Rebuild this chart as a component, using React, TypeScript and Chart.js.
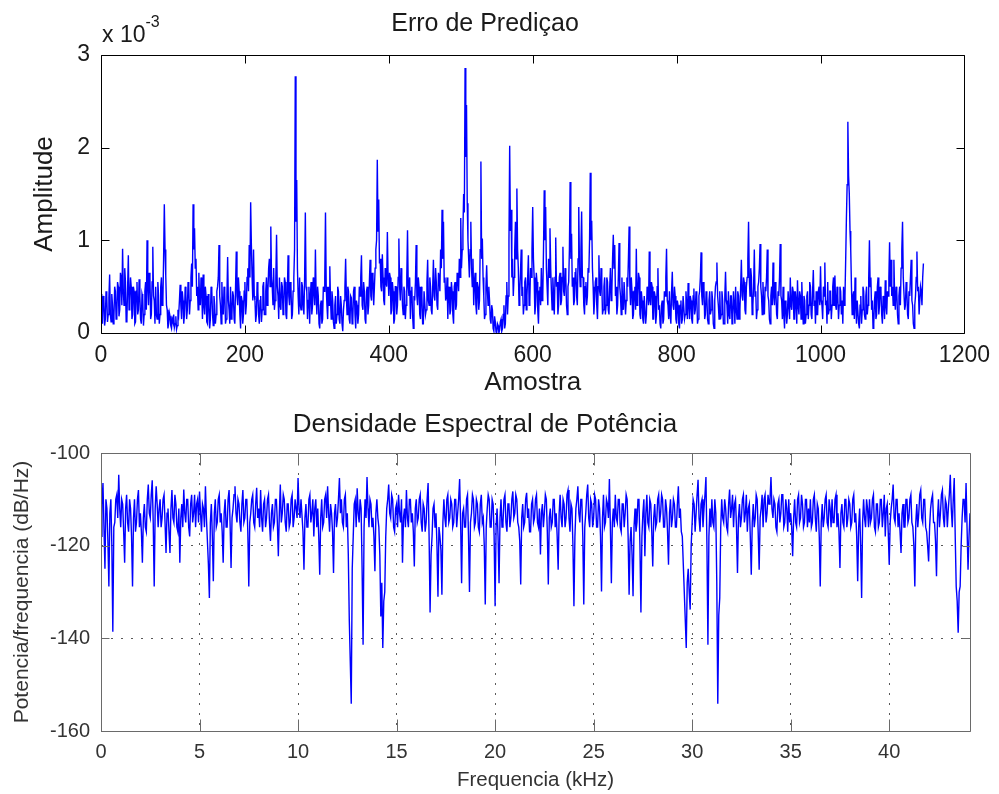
import React, { useEffect, useRef } from "react";
import { Chart, registerables } from "chart.js";

Chart.register(...registerables);

const FONT = "'Liberation Sans', Arial, Helvetica, sans-serif";

// ---------- Top subplot: prediction error (values in units of 1e-3) ----------
const ERR_TITLE = "Erro de Prediçao";
const ERR_X_LABEL = "Amostra";
const ERR_Y_LABEL = "Amplitude";
const ERR_SAMPLE_STEP = 1;
const ERR_X_MIN = 0;
const ERR_X_MAX = 1200;
const ERR_X_STEP = 200;
const ERR_Y_MIN = 0;
const ERR_Y_MAX = 3;
const ERR_Y_STEP = 1;

const errorValues = [
  0.42, 0.15, 0.1, 0.4, 0.35, 0.08, 0.15, 0.45, 0.4, 0.12, 0.2, 0.38, 0.63, 0.2, 0.12, 0.42, 0.3, 0.1, 0.18, 0.5,
  0.45, 0.15, 0.2, 0.55, 0.5, 0.18, 0.25, 0.65, 0.6, 0.3, 0.91, 0.45, 0.3, 0.7, 0.55, 0.12, 0.15, 0.5, 0.84, 0.25,
  0.35, 0.6, 0.5, 0.15, 0.2, 0.5, 0.45, 0.1, 0.12, 0.45, 0.55, 0.2, 0.25, 0.58, 0.4, 0.15, 0.1, 0.42, 0.38, 0.08,
  0.2, 0.45, 0.55, 0.25, 1.0, 0.5, 0.3, 0.65, 0.6, 0.15, 0.2, 0.55, 0.93, 0.4, 0.35, 0.1, 0.5, 0.2, 0.15, 0.55,
  0.4, 0.1, 0.2, 0.5, 0.6, 0.3, 0.35, 0.8, 1.39, 0.9, 0.62, 0.3, 0.25, 0.05, 0.1, 0.22, 0.18, 0.08, 0.05, 0.15,
  0.12, 0.2, 0.06, 0.1, 0.18, 0.04, 0.08, 0.25, 0.2, 0.35, 0.52, 0.3, 0.15, 0.45, 0.35, 0.1, 0.2, 0.5, 0.42, 0.15,
  0.25, 0.55, 0.5, 0.2, 0.35, 0.6, 0.75, 0.5, 1.39, 0.9, 1.13, 0.7, 0.8, 0.4, 0.5, 0.25, 0.65, 0.35, 0.3, 0.6,
  0.45, 0.15, 0.63, 0.3, 0.2, 0.5, 0.4, 0.12, 0.1, 0.42, 0.35, 0.05, 0.15, 0.5, 0.45, 0.2, 0.08, 0.4, 0.3, 0.1,
  0.2, 0.45, 0.5, 0.6, 0.95, 0.4, 0.3, 0.1, 0.55, 0.25, 0.2, 0.5, 0.45, 0.1, 0.15, 0.4, 0.82, 0.35, 0.25, 0.1,
  0.5, 0.15, 0.2, 0.45, 0.4, 0.15, 0.1, 0.5, 0.88, 0.4, 0.3, 0.6, 0.45, 0.2, 0.05, 0.4, 0.35, 0.1, 0.2, 0.45,
  0.55, 0.2, 0.3, 0.6, 0.7, 0.45, 0.95, 0.6, 1.41, 0.95, 0.6, 0.35, 0.9, 0.4, 0.35, 0.12, 0.2, 0.55, 0.45, 0.2,
  0.1, 0.35, 0.4, 0.12, 0.25, 0.5, 0.55, 0.2, 0.2, 0.45, 0.6, 0.3, 0.45, 0.7, 0.8, 0.5, 1.15, 0.6, 0.5, 0.3,
  0.7, 0.25, 0.35, 0.6, 1.06, 0.5, 0.4, 0.15, 0.6, 0.3, 0.25, 0.55, 0.5, 0.2, 0.3, 0.6, 0.55, 0.2, 0.15, 0.45,
  0.84, 0.4, 0.3, 0.55, 0.5, 0.15, 0.2, 0.45, 0.6, 0.9, 2.77, 1.2, 1.65, 0.7, 0.4, 0.2, 0.6, 0.3, 0.25, 0.55,
  0.5, 0.3, 0.2, 0.6, 1.3, 0.5, 0.45, 0.15, 0.35, 0.5, 0.1, 0.4, 0.55, 0.2, 0.3, 0.6, 0.45, 0.3, 0.9, 0.4,
  0.2, 0.5, 0.4, 0.1, 0.05, 0.3, 0.35, 0.1, 0.15, 0.5, 0.45, 0.6, 1.3, 0.5, 0.3, 0.15, 0.5, 0.3, 0.72, 0.35,
  0.15, 0.45, 0.35, 0.12, 0.05, 0.3, 0.4, 0.1, 0.2, 0.5, 0.45, 0.15, 0.1, 0.4, 0.3, 0.1, 0.02, 0.25, 0.35, 0.5,
  0.8, 0.4, 0.2, 0.5, 0.45, 0.15, 0.1, 0.4, 0.38, 0.1, 0.15, 0.45, 0.5, 0.2, 0.05, 0.35, 0.3, 0.1, 0.2, 0.5,
  0.4, 0.6, 0.84, 0.3, 0.25, 0.55, 0.45, 0.15, 0.1, 0.45, 0.5, 0.2, 0.3, 0.55, 0.79, 0.4, 0.35, 0.65, 0.6, 0.3,
  0.5, 0.7, 0.9, 1.0, 1.87, 1.1, 1.44, 0.75, 0.8, 0.5, 0.45, 0.85, 0.6, 0.35, 0.3, 0.7, 0.55, 0.5, 1.09, 0.6,
  0.4, 0.65, 0.6, 0.2, 0.25, 0.55, 0.45, 0.1, 0.15, 0.5, 0.5, 0.2, 0.3, 0.6, 1.02, 0.5, 0.35, 0.7, 0.55, 0.3,
  0.2, 0.5, 0.45, 0.15, 0.3, 0.6, 1.11, 0.5, 0.4, 0.6, 0.15, 0.45, 0.5, 0.2, 0.05, 0.4, 0.35, 0.55, 0.95, 0.4,
  0.3, 0.6, 0.5, 0.2, 0.15, 0.5, 0.4, 0.1, 0.1, 0.45, 0.45, 0.2, 0.25, 0.55, 0.79, 0.35, 0.3, 0.6, 0.5, 0.25,
  0.2, 0.5, 0.79, 0.4, 0.35, 0.7, 0.55, 0.3, 0.25, 0.65, 0.6, 0.45, 0.9, 0.7, 1.33, 0.8, 1.2, 0.55, 0.6, 0.35,
  0.4, 0.6, 0.15, 0.45, 0.5, 0.2, 0.25, 0.55, 0.45, 0.2, 0.1, 0.5, 0.55, 0.25, 0.3, 0.65, 0.6, 0.45, 0.8, 0.6,
  1.24, 0.7, 0.9, 1.1, 1.5, 1.3, 2.86, 1.9, 2.46, 1.4, 1.0, 0.8, 0.6, 0.9, 1.2, 0.7, 0.5, 0.8, 0.3, 0.55,
  0.65, 0.3, 0.2, 0.55, 0.5, 0.25, 0.35, 0.9, 1.85, 0.8, 1.02, 0.6, 0.4, 0.15, 0.2, 0.5, 0.73, 0.45, 0.3, 0.5,
  0.35, 0.15, 0.1, 0.3, 0.25, 0.05, 0.02, 0.18, 0.12, 0.01, 0.0, 0.1, 0.08, 0.0, 0.03, 0.12, 0.15, 0.02, 0.05, 0.2,
  0.3, 0.05, 0.1, 0.4, 0.55, 0.2, 0.4, 1.0, 2.02, 1.1, 1.33, 0.6, 0.8, 0.4, 0.6, 0.9, 1.2, 0.8, 1.56, 0.9,
  0.7, 0.3, 0.45, 0.65, 0.9, 0.4, 0.5, 0.2, 0.3, 0.55, 0.6, 0.25, 0.4, 0.6, 0.84, 0.3, 0.35, 0.7, 0.6, 0.9,
  1.36, 0.8, 0.6, 0.2, 0.3, 0.65, 0.55, 0.25, 0.1, 0.45, 0.5, 0.3, 0.7, 0.35, 0.4, 0.9, 1.54, 1.0, 1.36, 0.7,
  0.5, 0.3, 0.8, 0.6, 1.13, 0.7, 0.45, 0.25, 0.6, 0.4, 0.2, 0.6, 1.03, 0.5, 0.55, 0.2, 0.3, 0.6, 0.65, 0.3,
  0.35, 0.6, 0.93, 0.45, 0.4, 0.7, 0.6, 0.3, 0.2, 0.5, 0.55, 0.9, 1.63, 0.8, 1.07, 0.5, 0.6, 0.3, 0.35, 0.65,
  0.7, 0.4, 0.3, 0.8, 1.36, 0.7, 0.5, 0.9, 1.31, 0.6, 0.6, 0.3, 0.2, 0.5, 0.55, 0.3, 0.4, 0.7, 0.65, 1.0,
  1.73, 1.0, 1.21, 0.7, 0.5, 0.2, 0.35, 0.55, 0.6, 0.3, 0.15, 0.5, 0.84, 0.45, 0.4, 0.7, 0.55, 0.2, 0.25, 0.5,
  0.6, 0.2, 0.3, 0.6, 0.55, 0.25, 0.2, 0.5, 0.7, 0.35, 0.45, 0.8, 1.06, 0.7, 0.95, 0.4, 0.5, 0.2, 0.3, 0.6,
  0.97, 0.5, 0.4, 0.2, 0.6, 0.3, 0.25, 0.55, 0.55, 0.2, 0.35, 0.6, 0.5, 0.8, 1.15, 0.5, 0.3, 0.6, 0.45, 0.15,
  0.2, 0.45, 0.5, 0.25, 0.91, 0.3, 0.4, 0.65, 0.6, 0.2, 0.15, 0.45, 0.35, 0.15, 0.1, 0.4, 0.4, 0.1, 0.2, 0.5,
  0.45, 0.3, 0.88, 0.35, 0.3, 0.55, 0.5, 0.15, 0.15, 0.45, 0.4, 0.1, 0.2, 0.5, 0.7, 0.25, 0.3, 0.1, 0.05, 0.3,
  0.35, 0.1, 0.15, 0.45, 0.4, 0.6, 0.91, 0.35, 0.3, 0.15, 0.45, 0.2, 0.1, 0.45, 0.66, 0.3, 0.25, 0.5, 0.4, 0.15,
  0.1, 0.35, 0.3, 0.1, 0.05, 0.3, 0.35, 0.1, 0.15, 0.4, 0.4, 0.15, 0.2, 0.45, 0.3, 0.15, 0.54, 0.3, 0.15, 0.4,
  0.35, 0.15, 0.1, 0.4, 0.48, 0.2, 0.25, 0.45, 0.4, 0.1, 0.15, 0.4, 0.45, 0.6, 0.87, 0.4, 0.3, 0.55, 0.5, 0.15,
  0.2, 0.45, 0.4, 0.15, 0.1, 0.35, 0.45, 0.2, 0.25, 0.45, 0.35, 0.1, 0.05, 0.35, 0.5, 0.55, 0.76, 0.4, 0.3, 0.15,
  0.45, 0.15, 0.2, 0.45, 0.35, 0.1, 0.1, 0.4, 0.66, 0.35, 0.3, 0.1, 0.45, 0.2, 0.15, 0.4, 0.4, 0.1, 0.2, 0.45,
  0.3, 0.1, 0.5, 0.25, 0.15, 0.45, 0.4, 0.15, 0.25, 0.5, 0.79, 0.4, 0.35, 0.6, 0.55, 0.25, 0.2, 0.5, 0.6, 0.8,
  1.2, 0.6, 0.4, 0.7, 0.6, 0.2, 0.3, 0.5, 0.9, 0.4, 0.45, 0.15, 0.25, 0.5, 0.55, 0.7, 0.96, 0.5, 0.4, 0.2,
  0.55, 0.3, 0.2, 0.5, 0.45, 0.6, 0.9, 0.4, 0.35, 0.15, 0.1, 0.4, 0.5, 0.3, 0.76, 0.4, 0.3, 0.55, 0.45, 0.2,
  0.15, 0.45, 0.4, 0.6, 0.96, 0.4, 0.35, 0.15, 0.5, 0.2, 0.05, 0.35, 0.3, 0.1, 0.2, 0.45, 0.45, 0.15, 0.6, 0.3,
  0.25, 0.5, 0.45, 0.15, 0.15, 0.45, 0.35, 0.1, 0.57, 0.3, 0.2, 0.45, 0.4, 0.15, 0.55, 0.3, 0.1, 0.4, 0.35, 0.1,
  0.2, 0.4, 0.45, 0.15, 0.3, 0.55, 0.5, 0.2, 0.15, 0.45, 0.68, 0.3, 0.35, 0.1, 0.45, 0.2, 0.2, 0.45, 0.5, 0.3,
  0.72, 0.35, 0.3, 0.15, 0.5, 0.4, 0.76, 0.3, 0.35, 0.1, 0.55, 0.2, 0.25, 0.45, 0.45, 0.15, 0.3, 0.5, 0.6, 0.3,
  0.62, 0.3, 0.25, 0.5, 0.4, 0.15, 0.3, 0.5, 0.45, 0.2, 0.35, 0.1, 0.5, 0.3, 0.4, 0.8, 1.24, 1.6, 2.28, 1.7,
  1.5, 1.1, 0.9, 0.5, 0.2, 0.4, 0.45, 0.15, 0.6, 0.3, 0.1, 0.35, 0.35, 0.1, 0.05, 0.3, 0.4, 0.1, 0.25, 0.5,
  0.45, 0.2, 0.15, 0.4, 0.5, 0.2, 0.3, 0.6, 1.0, 0.5, 0.6, 0.25, 0.35, 0.05, 0.1, 0.35, 0.45, 0.15, 0.2, 0.5,
  0.6, 0.2, 0.3, 0.5, 0.45, 0.2, 0.1, 0.4, 0.35, 0.15, 0.57, 0.3, 0.2, 0.45, 0.4, 0.6, 0.98, 0.5, 0.79, 0.4,
  0.5, 0.3, 0.79, 0.4, 0.25, 0.5, 0.45, 0.2, 0.1, 0.4, 0.5, 0.3, 0.7, 0.9, 1.2, 0.6, 0.6, 0.25, 0.3, 0.55,
  0.45, 0.2, 0.15, 0.45, 0.4, 0.6, 0.79, 0.35, 0.3, 0.1, 0.05, 0.3, 0.4, 0.6, 0.88, 0.45, 0.5, 0.2, 0.2, 0.5,
  0.45, 0.3, 0.6, 0.75,
];

// ---------- Bottom subplot: power spectral density (dB/Hz) ----------
const PSD_TITLE = "Densidade Espectral de Potência";
const PSD_X_LABEL = "Frequencia (kHz)";
const PSD_Y_LABEL = "Potencia/frequencia (dB/Hz)";
const PSD_FREQ_STEP_KHZ = 0.05;
const PSD_X_MIN = 0;
const PSD_X_MAX = 44.1;
const PSD_X_STEP = 5;
const PSD_Y_MIN = -160;
const PSD_Y_MAX = -100;
const PSD_Y_STEP = 20;

const psdValues = [
  -118, -111, -106.5, -116, -125, -110, -112, -119, -128.8, -113, -110, -120, -138.6, -116, -115, -110, -109, -114, -104.7, -112,
  -116, -110, -111, -117, -123.7, -112, -109, -115, -117, -110, -112, -118, -128.8, -114, -110, -117, -115, -110, -108, -116,
  -113, -117, -123.7, -114, -111, -116, -117, -110, -106.8, -113, -114, -109, -105.9, -115, -128.8, -112, -107.2, -111, -116, -112,
  -110, -116, -114, -110, -109, -115, -121.6, -113, -112, -117, -121.6, -112, -108, -114, -115, -109, -111, -116, -117, -112,
  -123.7, -114, -111, -116, -107.9, -113, -115, -110, -110, -116, -118, -111, -109, -115, -113, -109, -116, -111, -110, -115,
  -108.3, -113, -117, -111, -112, -116, -107.2, -114, -119, -124, -131.3, -115, -111, -118, -127.7, -113, -110, -116, -115, -110,
  -109, -115, -113, -117, -123.7, -113, -110, -116, -116, -110, -108, -115, -124.8, -114, -112, -109, -107.2, -113, -115, -110,
  -111, -115, -117, -111, -108, -115, -114, -110, -110, -117, -128.8, -115, -113, -110, -109, -115, -116, -111, -107.5, -114,
  -112, -116, -108, -114, -117, -111, -110, -116, -114, -110, -109, -115, -119, -113, -111, -116, -115, -110, -110, -115,
  -122.3, -113, -106.8, -115, -113, -109, -110, -115, -117, -111, -111, -116, -115, -110, -109, -116, -114, -110, -112, -114,
  -105.4, -112, -114, -110, -110, -117, -125.2, -114, -111, -116, -116, -110, -109, -115, -113, -110, -118, -112, -110, -116,
  -112, -118, -126.3, -114, -110, -116, -115, -110, -109, -114, -107.2, -113, -117, -111, -113, -117, -125.9, -113, -111, -116,
  -114, -110, -105.4, -113, -110, -115, -116, -110, -109, -116, -113, -122, -136, -145, -154.1, -125, -118, -111, -110, -116,
  -107.6, -113, -115, -110, -112, -125, -141.4, -116, -110, -114, -105.2, -112, -116, -110, -111, -116, -114, -118, -125.5, -113,
  -110, -114, -116, -122, -135.3, -128, -142.1, -132, -130, -118, -112, -110, -106.8, -113, -114, -109, -110, -116, -117, -112,
  -111, -116, -109, -113, -115, -110, -123.7, -114, -112, -116, -108, -114, -116, -110, -110, -115, -113, -117, -124.5, -112,
  -110, -115, -114, -110, -109, -115, -117, -111, -112, -117, -115, -110, -106.5, -118, -134.4, -122, -118, -112, -111, -116,
  -113, -120, -131, -116, -118, -121, -130.6, -115, -110, -114, -116, -110, -109, -115, -114, -110, -111, -116, -115, -110,
  -110, -116, -113, -110, -105.6, -115, -128.1, -113, -112, -116, -116, -110, -109, -118, -130, -115, -113, -109, -110, -116,
  -115, -110, -111, -116, -117, -111, -109, -115, -114, -120, -132.7, -116, -112, -109, -110, -116, -116, -110, -111, -118,
  -133.1, -116, -112, -118, -128.1, -114, -110, -116, -115, -110, -109, -115, -117, -111, -111, -116, -114, -110, -108.3, -114,
  -113, -109, -110, -115, -116, -119, -128.4, -114, -111, -116, -115, -110, -108.6, -114, -112, -117, -117, -111, -110, -115,
  -114, -110, -109, -115, -116, -112, -121.9, -113, -111, -116, -113, -109, -110, -117, -128.4, -114, -112, -116, -115, -110,
  -110, -116, -113, -118, -125.2, -113, -109, -114, -116, -110, -111, -116, -114, -109, -108, -114, -117, -111, -112, -120,
  -133.1, -118, -112, -110, -107.2, -113, -115, -110, -110, -118, -132.7, -116, -113, -109, -106.8, -114, -116, -110, -111, -116,
  -114, -109, -110, -116, -116, -110, -112, -118, -129.9, -114, -109, -116, -115, -110, -111, -114, -105.6, -116, -128.1, -115,
  -112, -116, -109, -114, -115, -110, -110, -116, -117, -111, -111, -116, -113, -109, -110, -118, -130.6, -119, -116, -122,
  -130.9, -116, -112, -117, -115, -110, -110, -120, -134.4, -118, -113, -110, -122.3, -113, -109, -115, -116, -110, -111, -117,
  -124.5, -114, -111, -116, -115, -110, -109, -115, -113, -109, -110, -116, -116, -110, -112, -117, -124.1, -113, -110, -116,
  -114, -110, -111, -116, -116, -111, -107.2, -114, -112, -117, -118, -124, -130, -136, -142.1, -128, -125, -130, -133.8, -120,
  -115, -110, -111, -117, -113, -109, -105.8, -114, -117, -111, -110, -116, -112, -109, -105.2, -120, -141.4, -118, -112, -116,
  -110, -115, -116, -110, -113, -128, -154.1, -135, -131.3, -116, -110, -114, -115, -110, -112, -116, -117, -111, -107.9, -114,
  -112, -109, -116, -111, -110, -116, -125.9, -114, -111, -116, -114, -110, -109, -115, -113, -109, -117, -112, -111, -118,
  -126.3, -115, -111, -116, -114, -109, -110, -117, -125.2, -114, -112, -109, -116, -110, -109, -115, -113, -109, -111, -110,
  -105.2, -112, -114, -110, -111, -116, -117, -111, -110, -115, -113, -109, -109, -116, -115, -110, -112, -117, -110, -115,
  -113, -116, -122.3, -114, -110, -115, -116, -110, -109, -115, -114, -109, -111, -116, -115, -110, -110, -116, -112, -115,
  -110, -116, -115, -110, -109, -114, -117, -111, -112, -118, -128.8, -115, -111, -116, -114, -110, -109, -115, -116, -110,
  -112, -116, -110, -115, -115, -110, -109, -116, -113, -117, -124.8, -113, -111, -115, -116, -110, -110, -116, -114, -110,
  -111, -116, -115, -110, -109, -115, -113, -118, -127.7, -116, -112, -120, -131.3, -115, -110, -114, -116, -110, -112, -116,
  -110, -115, -114, -110, -109, -116, -117, -111, -111, -116, -115, -110, -110, -116, -113, -109, -118, -112, -111, -117,
  -124.1, -115, -112, -110, -106.8, -114, -115, -110, -110, -116, -113, -117, -121.6, -113, -111, -116, -116, -110, -110, -115,
  -114, -110, -109, -115, -116, -120, -128.8, -115, -111, -116, -113, -109, -108, -114, -115, -110, -110, -116, -117, -120,
  -123.4, -116, -112, -110, -109, -115, -115, -119, -126.6, -114, -110, -116, -113, -109, -108, -114, -116, -110, -111, -116,
  -112, -109, -104.7, -112, -116, -110, -105.4, -118, -128.8, -132, -138.8, -130, -128.8, -120, -114, -110, -110, -115, -106.5, -116,
  -125.2, -118, -113,
];

const plainTick = (v: any) => String(v);

// ---------- plugin: MATLAB-like box with inward ticks, and exponent label ----------
const matlabBox = {
  id: "matlabBox",
  afterDatasetsDraw(chart: any, _args: any, opts: any) {
    const { ctx, chartArea: a, scales } = chart;
    const xs = scales.x;
    const ys = scales.y;
    ctx.save();
    ctx.strokeStyle = opts.color || "#000";
    ctx.lineWidth = 1;
    ctx.beginPath();
    const L = Math.round(a.left) + 0.5;
    const R = Math.round(a.right) + 0.5;
    const T = Math.round(a.top) + 0.5;
    const B = Math.round(a.bottom) + 0.5;
    ctx.moveTo(L, T);
    ctx.lineTo(R, T);
    ctx.lineTo(R, B);
    ctx.lineTo(L, B);
    ctx.closePath();
    const xl = opts.xTickLen || 8;
    const yl = opts.yTickLen || 8;
    xs.ticks.forEach((t: any) => {
      const px = Math.round(xs.getPixelForValue(t.value)) + 0.5;
      ctx.moveTo(px, B);
      ctx.lineTo(px, B - xl);
      ctx.moveTo(px, T);
      ctx.lineTo(px, T + xl);
    });
    ys.ticks.forEach((t: any) => {
      const py = Math.round(ys.getPixelForValue(t.value)) + 0.5;
      ctx.moveTo(L, py);
      ctx.lineTo(L + yl, py);
      ctx.moveTo(R, py);
      ctx.lineTo(R - yl, py);
    });
    ctx.stroke();
    if (opts.exponent) {
      ctx.fillStyle = opts.textColor || "#000";
      ctx.textAlign = "left";
      ctx.textBaseline = "alphabetic";
      ctx.font = `23px ${FONT}`;
      const base = "x 10";
      ctx.fillText(base, a.left + 1, a.top - 13);
      const w = ctx.measureText(base).width;
      ctx.font = `16px ${FONT}`;
      ctx.fillText(opts.exponent, a.left + 1 + w, a.top - 28);
    }
    ctx.restore();
  },
};

function ErrorChart() {
  const ref = useRef<HTMLCanvasElement | null>(null);
  useEffect(() => {
    if (!ref.current) return;
    const points = errorValues.map((v, i) => ({ x: i * ERR_SAMPLE_STEP, y: v }));
    const textColor = "#1a1a1a";
    const chart = new Chart(ref.current, {
      type: "line",
      data: {
        datasets: [
          {
            data: points,
            borderColor: "#0000ff",
            borderWidth: 1.4,
            pointRadius: 0,
            tension: 0,
            fill: false,
          },
        ],
      },
      options: {
        animation: false,
        responsive: false,
        devicePixelRatio: 1,
        layout: { padding: { left: 0, right: 29, top: 0, bottom: 0 } },
        plugins: {
          legend: { display: false },
          tooltip: { enabled: false },
          title: {
            display: true,
            text: ERR_TITLE,
            color: textColor,
            font: { family: FONT, size: 25, weight: "normal" },
            padding: { top: 9.4, bottom: 15.6 },
          },
          matlabBox: { color: "#000", xTickLen: 8, yTickLen: 8, exponent: "-3", textColor },
        } as any,
        scales: {
          x: {
            type: "linear",
            min: ERR_X_MIN,
            max: ERR_X_MAX,
            ticks: {
              stepSize: ERR_X_STEP,
              includeBounds: false,
              maxRotation: 0,
              padding: 9,
              color: textColor,
              font: { family: FONT, size: 23 },
              callback: plainTick,
            },
            grid: { display: false, drawTicks: false },
            border: { display: false },
            title: {
              display: true,
              text: ERR_X_LABEL,
              color: textColor,
              font: { family: FONT, size: 26 },
              padding: { top: 0, bottom: 1.4 },
            },
            afterFit: (s: any) => {
              s.height = 67;
            },
          },
          y: {
            type: "linear",
            min: ERR_Y_MIN,
            max: ERR_Y_MAX,
            ticks: {
              stepSize: ERR_Y_STEP,
              padding: 11,
              color: textColor,
              font: { family: FONT, size: 23 },
              callback: plainTick,
            },
            grid: { display: false, drawTicks: false },
            border: { display: false },
            title: {
              display: true,
              text: ERR_Y_LABEL,
              color: textColor,
              font: { family: FONT, size: 26 },
              padding: { top: 29.4, bottom: 0 },
            },
            afterFit: (s: any) => {
              s.width = 101;
            },
          },
        },
      } as any,
      plugins: [matlabBox as any],
    });
    return () => chart.destroy();
  }, []);
  return (
    <canvas
      ref={ref}
      width={999}
      height={400}
      style={{ position: "absolute", left: 0, top: 0, width: 999, height: 400 }}
    />
  );
}

function PsdChart() {
  const ref = useRef<HTMLCanvasElement | null>(null);
  useEffect(() => {
    if (!ref.current) return;
    const points = psdValues.map((v, i) => ({ x: +(i * PSD_FREQ_STEP_KHZ).toFixed(2), y: v }));
    const textColor = "#333333";
    const chart = new Chart(ref.current, {
      type: "line",
      data: {
        datasets: [
          {
            data: points,
            borderColor: "#0000ff",
            borderWidth: 1.4,
            pointRadius: 0,
            tension: 0,
            fill: false,
          },
        ],
      },
      options: {
        animation: false,
        responsive: false,
        devicePixelRatio: 1,
        layout: { padding: { left: 0, right: 29, top: 0, bottom: 0 } },
        plugins: {
          legend: { display: false },
          tooltip: { enabled: false },
          title: {
            display: true,
            text: PSD_TITLE,
            color: "#1a1a1a",
            font: { family: FONT, size: 26, weight: "normal" },
            padding: { top: 8.8, bottom: 13 },
          },
          matlabBox: { color: "#6a6a6a", xTickLen: 12, yTickLen: 8 },
        } as any,
        scales: {
          x: {
            type: "linear",
            min: PSD_X_MIN,
            max: PSD_X_MAX,
            ticks: {
              stepSize: PSD_X_STEP,
              includeBounds: false,
              maxRotation: 0,
              padding: 9,
              color: textColor,
              font: { family: FONT, size: 20 },
              callback: plainTick,
            },
            grid: {
              display: true,
              drawOnChartArea: true,
              drawTicks: false,
              color: "rgba(0,0,0,0.65)",
              lineWidth: 1,
            },
            border: { display: false, dash: [2, 8] },
            title: {
              display: true,
              text: PSD_X_LABEL,
              color: textColor,
              font: { family: FONT, size: 20.5 },
              padding: { top: 0, bottom: 1.7 },
            },
            afterFit: (s: any) => {
              s.height = 63;
            },
          },
          y: {
            type: "linear",
            min: PSD_Y_MIN,
            max: PSD_Y_MAX,
            ticks: {
              stepSize: PSD_Y_STEP,
              padding: 11,
              color: textColor,
              font: { family: FONT, size: 20 },
              callback: plainTick,
            },
            grid: {
              display: true,
              drawOnChartArea: true,
              drawTicks: false,
              color: "rgba(0,0,0,0.65)",
              lineWidth: 1,
            },
            border: { display: false, dash: [2, 8] },
            title: {
              display: true,
              text: PSD_Y_LABEL,
              color: textColor,
              font: { family: FONT, size: 21 },
              padding: { top: 9.9, bottom: 0 },
            },
            afterFit: (s: any) => {
              s.width = 101;
            },
          },
        },
      } as any,
      plugins: [matlabBox as any],
    });
    return () => chart.destroy();
  }, []);
  return (
    <canvas
      ref={ref}
      width={999}
      height={394}
      style={{ position: "absolute", left: 0, top: 400, width: 999, height: 394 }}
    />
  );
}

export default function App() {
  return (
    <div
      style={{
        position: "absolute",
        left: 0,
        top: 0,
        width: 999,
        height: 794,
        background: "#ffffff",
        overflow: "hidden",
      }}
    >
      <ErrorChart />
      <PsdChart />
    </div>
  );
}
